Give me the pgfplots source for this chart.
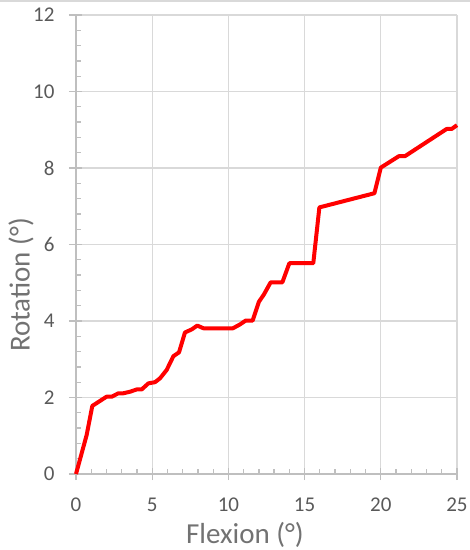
\documentclass[border=0pt]{standalone}
\usepackage{pgfplots}
\pgfplotsset{compat=1.18}
\usepackage{fontspec}
\setmainfont{Carlito}
\definecolor{gridgray}{HTML}{D9D9D9}
\definecolor{axisgray}{HTML}{BFBFBF}
\definecolor{labelgray}{HTML}{595959}
\begin{document}
\begin{tikzpicture}
\useasboundingbox (-76pt,-76pt) rectangle (394pt,474pt);
% light frame edge at the top of the picture
\fill[gridgray] (-76pt,472pt) rectangle (394pt,474pt);
\begin{axis}[
    at={(0,0)}, anchor=south west,
    scale only axis, width=381pt, height=459pt,
    xmin=0, xmax=25, ymin=0, ymax=12,
    xtick distance=5, ytick distance=2,
    minor tick num=4,
    axis x line=bottom, axis y line=left,
    axis line style={-, draw=axisgray, line width=1.8pt},
    grid=major,
    major grid style={draw=gridgray, line width=1.3pt},
    tick align=inside,
    major tick length=6pt, minor tick length=5pt,
    every tick/.style={draw=axisgray, line width=1.3pt},
    extra x ticks={0,5,10,15,20,25}, extra x tick labels={},
    extra x tick style={grid=none, tick align=outside, major tick length=6pt},
    extra y ticks={0,2,4,6,8,10,12}, extra y tick labels={},
    extra y tick style={grid=none, tick align=outside, major tick length=7pt},
    /pgf/number format/assume math mode=true,
    ticklabel style={font=\fontsize{21}{24}\selectfont, text=labelgray},
    xticklabel style={yshift=-20pt},
    yticklabel style={xshift=-18pt},
    xlabel={Flexion (°)}, ylabel={Rotation (°)},
    label style={font=\fontsize{29}{34}\selectfont, text=labelgray!85},
    xlabel style={at={([yshift=-61pt]axis description cs:0.4436,0)}, anchor=center},
    ylabel style={at={([xshift=-55pt]axis description cs:0,0.412)}, anchor=center},
    clip=false,
]
\addplot[red, line width=4pt, line join=round] coordinates {
(0,0) (0.7,1.02) (1.07,1.78) (2.0,2.02) (2.34,2.02) (2.78,2.11) (3.1,2.11)
(3.54,2.15) (3.98,2.21) (4.31,2.21) (4.75,2.37) (5.18,2.40) (5.51,2.50)
(5.95,2.72) (6.39,3.08) (6.76,3.18) (7.15,3.70) (7.59,3.78) (7.96,3.88)
(8.36,3.81) (10.3,3.81) (10.76,3.91) (11.13,4.01) (11.59,4.01) (12.0,4.5)
(12.34,4.70) (12.77,5.01) (13.54,5.01) (14.0,5.51) (15.57,5.51) (15.97,6.97)
(19.58,7.34) (20.0,8.01) (21.19,8.31) (21.59,8.31) (24.32,9.02) (24.65,9.02)
(25.0,9.12)
};
\end{axis}
\end{tikzpicture}
\end{document}
